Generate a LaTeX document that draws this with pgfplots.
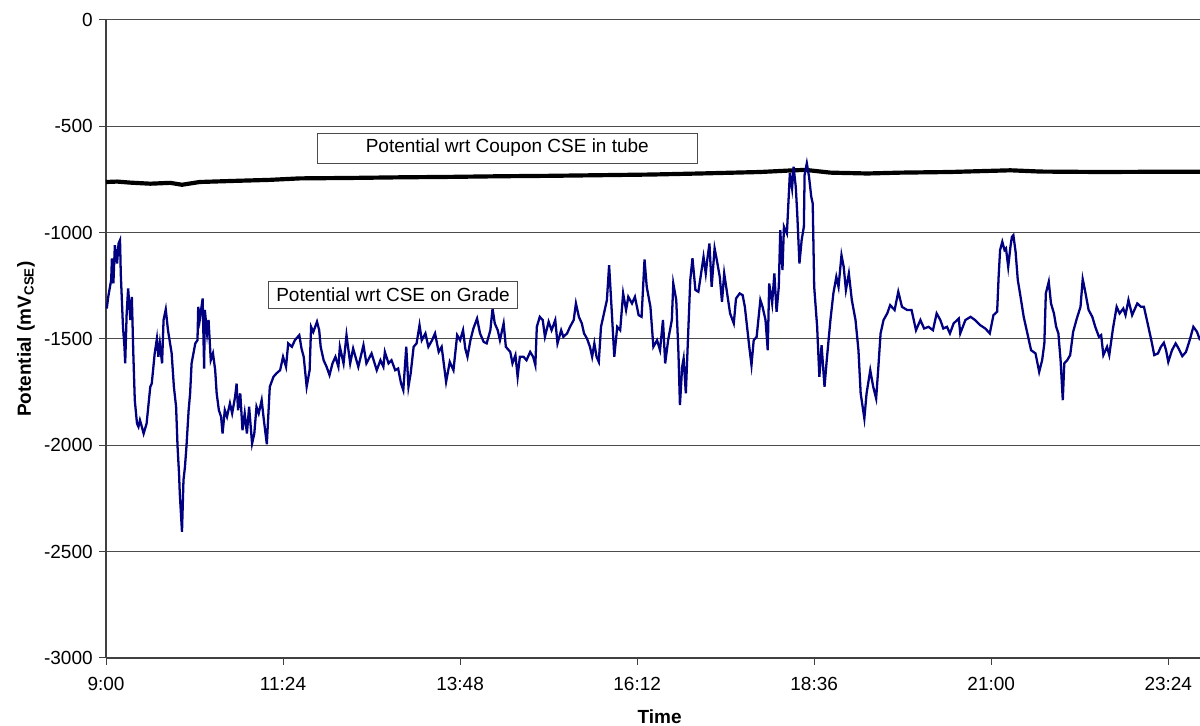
\documentclass[border=0pt]{standalone}
\usepackage{fontspec}
\setmainfont{Liberation Sans}
\usepackage{pgfplots}
\pgfplotsset{compat=1.18}

% potential wrt CSE on grade (hours, mV)
\newcommand{\gradedata}{
(9.01,-1357) (9.03,-1302) (9.07,-1223) (9.08,-1121) (9.10,-1239) (9.12,-1059) (9.15,-1145) (9.17,-1051)
(9.19,-1035) (9.20,-1192) (9.23,-1443) (9.25,-1537) (9.26,-1615) (9.28,-1380) (9.30,-1262) (9.33,-1411)
(9.35,-1302) (9.37,-1568) (9.39,-1788) (9.42,-1898) (9.44,-1913) (9.46,-1882) (9.48,-1906) (9.51,-1945)
(9.55,-1898) (9.60,-1725) (9.62,-1710) (9.66,-1568) (9.69,-1498) (9.71,-1584) (9.73,-1521) (9.76,-1615)
(9.78,-1411) (9.81,-1361) (9.84,-1459) (9.89,-1568) (9.92,-1725) (9.95,-1819) (9.97,-2008) (9.99,-2133)
(10.00,-2227) (10.03,-2407) (10.05,-2164) (10.07,-2102) (10.09,-2008) (10.12,-1835) (10.14,-1756) (10.16,-1615)
(10.21,-1521) (10.24,-1506) (10.25,-1349) (10.27,-1411) (10.31,-1310) (10.33,-1639) (10.34,-1364) (10.37,-1474)
(10.39,-1411) (10.42,-1600) (10.45,-1568) (10.48,-1647) (10.50,-1756) (10.53,-1835) (10.56,-1866) (10.58,-1945)
(10.61,-1835) (10.64,-1866) (10.68,-1803) (10.71,-1850) (10.75,-1772) (10.77,-1710) (10.79,-1835) (10.82,-1756)
(10.85,-1929) (10.88,-1850) (10.91,-1945) (10.94,-1819) (10.98,-1992) (11.01,-1945) (11.04,-1819) (11.07,-1850)
(11.11,-1788) (11.14,-1882) (11.18,-1995) (11.22,-1725) (11.27,-1678) (11.31,-1662) (11.36,-1647) (11.40,-1584)
(11.44,-1631) (11.47,-1521) (11.52,-1537) (11.56,-1506) (11.62,-1482) (11.65,-1545) (11.68,-1584) (11.72,-1725)
(11.76,-1647) (11.78,-1443) (11.81,-1467) (11.86,-1419) (11.89,-1459) (11.91,-1537) (11.95,-1600) (11.99,-1631)
(12.03,-1670) (12.07,-1615) (12.11,-1584) (12.15,-1631) (12.17,-1537) (12.22,-1615) (12.26,-1482) (12.31,-1615)
(12.35,-1545) (12.42,-1631) (12.49,-1529) (12.53,-1615) (12.60,-1568) (12.67,-1647) (12.72,-1600) (12.76,-1631)
(12.78,-1561) (12.83,-1615) (12.87,-1600) (12.92,-1647) (12.96,-1639) (13.00,-1710) (13.03,-1741) (13.07,-1537)
(13.10,-1725) (13.13,-1662) (13.17,-1537) (13.21,-1521) (13.25,-1435) (13.28,-1506) (13.33,-1474) (13.37,-1537)
(13.42,-1506) (13.46,-1474) (13.51,-1561) (13.55,-1537) (13.61,-1702) (13.66,-1608) (13.71,-1647) (13.76,-1482)
(13.80,-1506) (13.84,-1459) (13.87,-1545) (13.90,-1584) (13.94,-1506) (13.98,-1451) (14.03,-1404) (14.07,-1474)
(14.12,-1514) (14.16,-1521) (14.21,-1459) (14.24,-1357) (14.27,-1427) (14.31,-1459) (14.34,-1506) (14.39,-1427)
(14.42,-1537) (14.48,-1561) (14.51,-1615) (14.55,-1576) (14.58,-1678) (14.61,-1584) (14.66,-1584) (14.70,-1600)
(14.75,-1561) (14.79,-1584) (14.82,-1623) (14.84,-1443) (14.88,-1396) (14.92,-1411) (14.95,-1490) (15.00,-1419)
(15.04,-1459) (15.09,-1411) (15.12,-1521) (15.17,-1459) (15.20,-1490) (15.25,-1474) (15.29,-1443) (15.34,-1411)
(15.37,-1333) (15.41,-1396) (15.45,-1427) (15.48,-1474) (15.52,-1498) (15.56,-1537) (15.59,-1584) (15.62,-1521)
(15.65,-1584) (15.68,-1608) (15.71,-1443) (15.74,-1396) (15.79,-1317) (15.82,-1153) (15.86,-1396) (15.89,-1584)
(15.93,-1443) (15.97,-1459) (16.01,-1286) (16.05,-1364) (16.08,-1302) (16.13,-1333) (16.17,-1302) (16.22,-1388)
(16.26,-1396) (16.30,-1126) (16.33,-1255) (16.38,-1349) (16.42,-1537) (16.47,-1506) (16.51,-1553) (16.55,-1411)
(16.58,-1615) (16.62,-1506) (16.67,-1411) (16.69,-1239) (16.73,-1317) (16.76,-1568) (16.78,-1811) (16.81,-1631)
(16.83,-1592) (16.86,-1756) (16.89,-1490) (16.92,-1223) (16.95,-1121) (16.99,-1270) (17.03,-1278) (17.06,-1208)
(17.10,-1114) (17.13,-1192) (17.15,-1129) (17.18,-1051) (17.21,-1255) (17.25,-1074) (17.28,-1129) (17.32,-1208)
(17.35,-1325) (17.38,-1192) (17.42,-1286) (17.46,-1380) (17.51,-1427) (17.54,-1310) (17.59,-1286) (17.63,-1294)
(17.66,-1349) (17.70,-1474) (17.72,-1537) (17.75,-1623) (17.78,-1506) (17.82,-1490) (17.87,-1317) (17.90,-1349)
(17.94,-1411) (17.97,-1553) (17.99,-1239) (18.03,-1333) (18.06,-1192) (18.09,-1372) (18.12,-1255) (18.14,-988)
(18.17,-1176) (18.19,-972) (18.23,-1004) (18.25,-863) (18.27,-721) (18.30,-792) (18.32,-690) (18.35,-784)
(18.37,-910) (18.40,-1145) (18.43,-1035) (18.46,-972) (18.47,-729) (18.50,-674) (18.53,-737) (18.56,-831)
(18.58,-863) (18.60,-1255) (18.64,-1443) (18.67,-1678) (18.70,-1529) (18.74,-1725) (18.77,-1600) (18.82,-1411)
(18.86,-1286) (18.90,-1208) (18.93,-1255) (18.97,-1106) (19.00,-1161) (19.03,-1270) (19.07,-1192) (19.11,-1317)
(19.16,-1411) (19.20,-1553) (19.23,-1756) (19.28,-1874) (19.31,-1756) (19.36,-1647) (19.40,-1725) (19.44,-1780)
(19.47,-1631) (19.50,-1474) (19.54,-1411) (19.59,-1380) (19.63,-1341) (19.69,-1364) (19.74,-1278) (19.79,-1349)
(19.86,-1364) (19.92,-1364) (19.98,-1459) (20.04,-1411) (20.09,-1451) (20.15,-1443) (20.21,-1459) (20.26,-1380)
(20.31,-1411) (20.35,-1451) (20.40,-1443) (20.44,-1474) (20.49,-1427) (20.56,-1404) (20.58,-1474) (20.65,-1411)
(20.72,-1396) (20.78,-1411) (20.85,-1435) (20.92,-1451) (20.98,-1474) (21.03,-1388) (21.08,-1372) (21.10,-1208)
(21.12,-1082) (21.15,-1043) (21.18,-1082) (21.20,-1074) (21.23,-1161) (21.26,-1067) (21.28,-1020) (21.30,-1012)
(21.33,-1090) (21.36,-1223) (21.39,-1286) (21.44,-1396) (21.50,-1490) (21.54,-1553) (21.60,-1568) (21.65,-1655)
(21.69,-1600) (21.72,-1521) (21.74,-1286) (21.78,-1231) (21.81,-1333) (21.85,-1380) (21.88,-1443) (21.91,-1474)
(21.94,-1600) (21.97,-1788) (21.99,-1615) (22.03,-1600) (22.07,-1576) (22.11,-1467) (22.16,-1404) (22.21,-1349)
(22.24,-1219) (22.27,-1270) (22.32,-1364) (22.37,-1396) (22.41,-1443) (22.46,-1490) (22.49,-1482) (22.52,-1576)
(22.57,-1537) (22.60,-1576) (22.65,-1451) (22.70,-1349) (22.74,-1380) (22.79,-1357) (22.82,-1388) (22.86,-1317)
(22.91,-1388) (22.94,-1364) (22.98,-1333) (23.03,-1349) (23.07,-1349) (23.12,-1427) (23.17,-1506) (23.21,-1576)
(23.26,-1568) (23.30,-1537) (23.34,-1518) (23.37,-1553) (23.40,-1608) (23.45,-1553) (23.50,-1521) (23.54,-1545)
(23.59,-1581) (23.64,-1561) (23.69,-1506) (23.74,-1443) (23.79,-1467) (23.83,-1506)
}

\begin{document}
\begin{tikzpicture}
\begin{axis}[
    name=ax,
    scale only axis,
    width=575.8pt, height=335.8pt,
    xmin=9, xmax=23.83,
    ymin=-3000, ymax=0,
    axis lines=left,
    axis line style={-, black!75, line width=0.7pt},
    xtick={9,11.4,13.8,16.2,18.6,21,23.4},
    xticklabels={9:00,11:24,13:48,16:12,18:36,21:00,23:24},
    ytick={-3000,-2500,-2000,-1500,-1000,-500,0},
    yticklabels={-3000,-2500,-2000,-1500,-1000,-500,0},
    xticklabel style={yshift=-3pt},
    tick align=outside,
    major tick length=3.5pt,
    tick style={black!75, line width=0.5pt},
    ymajorgrids,
    grid style={black!70, line width=0.5pt},
    xlabel={\textbf{Time}},
    xlabel style={at={(ticklabel cs:0.506)}, yshift=-3.5pt},
    ylabel={\textbf{Potential (mV\textsubscript{CSE})}},
    ylabel style={yshift=-2pt},
    clip=false,
]
% potential wrt coupon CSE in tube
\addplot[black, line width=2.2pt] coordinates {
(9.00,-762) (9.15,-760) (9.33,-765) (9.60,-770) (9.87,-766) (10.03,-775) (10.27,-762) (10.72,-757)
(11.22,-752) (11.63,-745) (12.31,-743) (12.99,-740) (13.66,-738) (14.34,-735) (15.02,-733) (15.70,-730)
(16.38,-727) (17.05,-722) (17.87,-715) (18.27,-708) (18.48,-705) (18.61,-710) (18.82,-718) (19.32,-722)
(19.77,-718) (20.44,-715) (21.26,-707) (21.67,-713) (22.48,-715) (23.16,-714) (23.83,-714)
};
\addplot[color={rgb,255:red,0;green,0;blue,128}, line width=1.2pt] coordinates {\gradedata};
\node[draw=black!70, fill=white, minimum width=200pt, minimum height=15.8pt, inner sep=0pt]
    at (axis cs:14.44,-602) {Potential wrt Coupon CSE in tube};
\node[draw=black!70, fill=white, minimum width=131pt, minimum height=14.4pt, inner sep=0pt]
    at (axis cs:12.89,-1292) {Potential wrt CSE on Grade};
\end{axis}
\pgfresetboundingbox
\path[use as bounding box] ([xshift=-55.8pt,yshift=-35.8pt]ax.south west) rectangle ([yshift=10.5pt]ax.north east);
\end{tikzpicture}
\end{document}
